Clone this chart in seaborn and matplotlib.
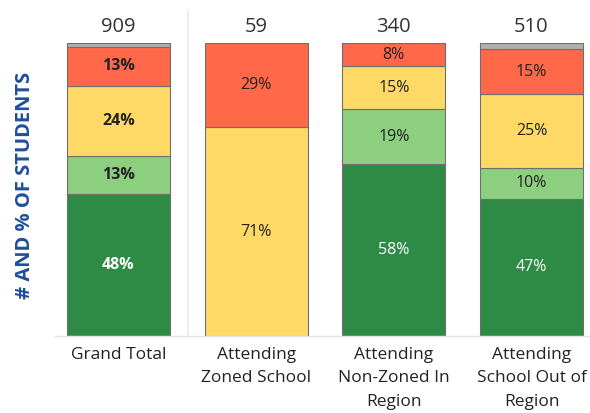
import matplotlib
matplotlib.use("Agg")
import matplotlib.pyplot as plt
import seaborn as sns
import numpy as np
import pandas as pd

categories = ["Grand Total", "Attending\nZoned School", "Attending\nNon-Zoned In\nRegion", "Attending\nSchool Out of\nRegion"]
totals = [909, 59, 340, 510]
dark_green = [48.4, 0.0, 58.6, 46.9]
light_green = [13.0, 0.0, 18.8, 10.3]
yellow = [24.0, 71.2, 14.7, 25.3]
red = [13.2, 28.8, 7.9, 15.4]
gray = [1.4, 0.0, 0.0, 2.1]
labels_dark_green = ["48%", "", "58%", "47%"]
labels_light_green = ["13%", "", "19%", "10%"]
labels_yellow = ["24%", "71%", "15%", "25%"]
labels_red = ["13%", "29%", "8%", "15%"]

sns.set_theme(style="white")
plt.rcParams['font.family'] = ['Open Sans', 'DejaVu Sans']

fig = plt.figure(figsize=(5.9, 4.13), dpi=100)
ax = fig.add_axes([55/590, 1 - 336/413, (590-55)/590, (336-43)/413])

layers = [
    (dark_green, "#2E8B46", labels_dark_green, "white"),
    (light_green, "#8CCF7E", labels_light_green, "#222222"),
    (yellow, "#FED966", labels_yellow, "#222222"),
    (red, "#FF6849", labels_red, "#222222"),
    (gray, "#B3AEAC", None, None),
]

x = np.arange(len(categories))
bottom = np.zeros(len(categories))
for vals, color, labs, tcol in layers:
    vals = np.array(vals)
    df = pd.DataFrame({"x": x, "v": vals, "b": bottom})
    sns.barplot(data=df, x="x", y="v", bottom=df["b"].values, color=color, width=0.748,
                edgecolor="#6f6f6f", linewidth=0.8, saturation=1, ax=ax, native_scale=True)
    if labs is not None:
        for i in range(len(x)):
            if labs[i]:
                ax.text(x[i], bottom[i] + vals[i] / 2, labs[i], ha="center", va="center",
                        color=tcol, fontsize=11.5,
                        fontweight="bold" if i == 0 else "normal")
    bottom = bottom + vals

for i in range(len(x)):
    ax.text(x[i], 100 * (336 - 27) / 293, str(totals[i]), ha="center", va="center",
            fontsize=14.5, color="#333333")

ax.set_xlim((55 - 118.5) / 137.7, 3 + (590 - 531.5) / 137.7)
ax.set_ylim(0, 100)
ax.set_xlabel("")
ax.set_ylabel("")
ax.set_xticks(x)
ax.set_xticklabels(categories, fontsize=12.5, color="#222222", linespacing=1.6, va="top")
ax.tick_params(axis="x", length=0, pad=8)
ax.set_yticks([])
for s in ["top", "right", "left"]:
    ax.spines[s].set_visible(False)
ax.spines["bottom"].set_color("#e3e3e3")
ax.spines["bottom"].set_linewidth(1.0)

sep_x = (188 - 118.5) / 137.7
ax.plot([sep_x, sep_x], [0, 100 * (336 - 10) / 293], color="#ebebeb", lw=1.2, clip_on=False, zorder=0)

fig.text(25/590, 1 - 185/413, "# AND % OF STUDENTS", rotation=90, ha="center", va="center",
         fontsize=14.5, fontweight="bold", color="#1F4E9B")

fig.savefig("out.png", dpi=100)
